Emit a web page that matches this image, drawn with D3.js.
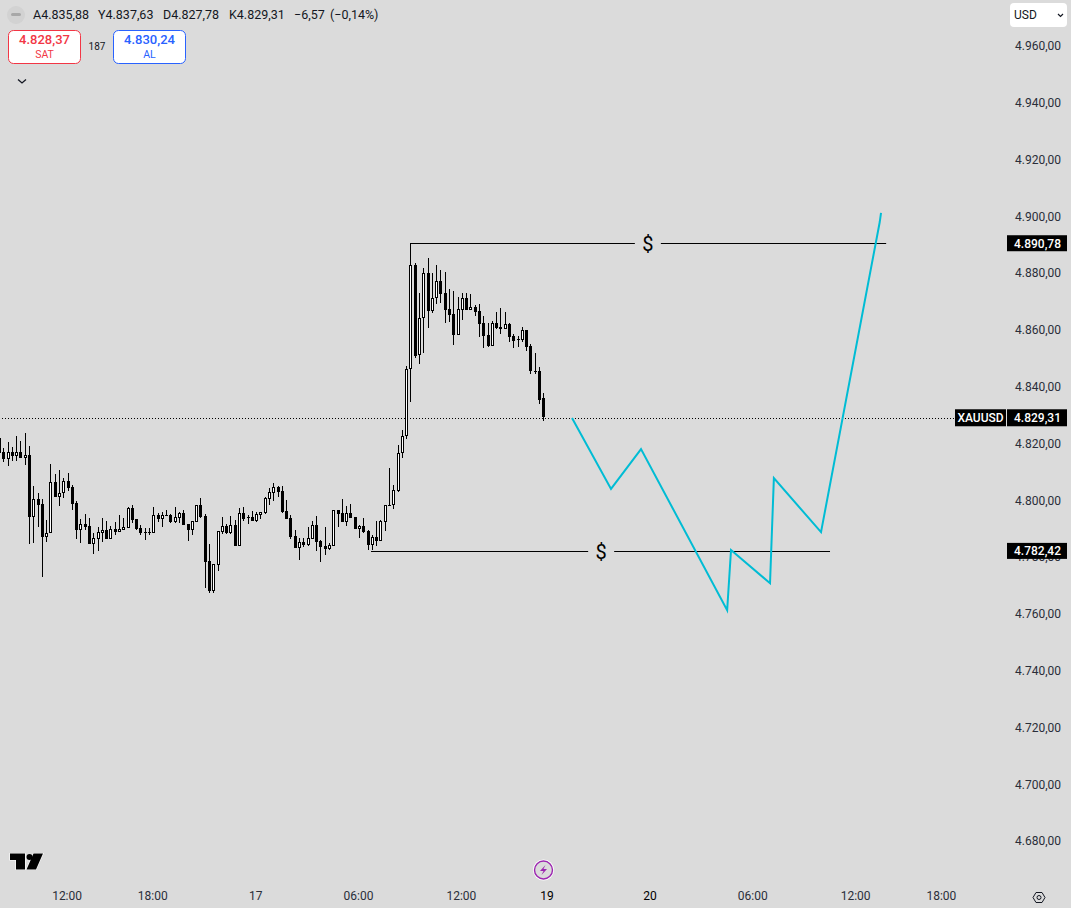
<!DOCTYPE html>
<html>
<head>
<meta charset="utf-8">
<script src="https://cdn.jsdelivr.net/npm/d3@7"></script>
<style>
html, body { margin: 0; padding: 0; background: #dbdbdb; overflow: hidden; }
svg { display: block; font-family: Roboto, "Liberation Sans", sans-serif; }
</style>
</head>
<body>
<svg id="chart" width="1071" height="908"></svg>
<script>
// 15 minute candles
var opens = [4821.8,4817.0,4814.7,4817.0,4815.6,4817.0,4815.0,4816.0,4794.2,4800.5,4798.7,4787.2,4788.4,4806.5,4801.3,4802.4,4806.8,4804.7,4799.1,4789.7,
  4791.7,4791.0,4784.7,4786.5,4788.6,4789.6,4786.5,4789.9,4789.0,4789.7,4790.4,4797.3,4793.4,4790.3,4788.9,4788.9,4788.6,4794.7,4793.5,4794.7,
  4794.7,4792.5,4793.9,4795.5,4791.7,4789.7,4792.5,4798.3,4794.5,4778.6,4768.2,4777.2,4788.8,4790.9,4788.5,4791.3,4783.9,4795.5,4794.1,4794.1,
  4792.7,4794.9,4795.5,4800.5,4802.7,4804.7,4803.3,4796.2,4793.8,4787.4,4783.2,4785.3,4784.3,4786.4,4791.3,4785.7,4783.9,4782.9,4783.9,4796.6,
  4795.5,4792.4,4795.5,4794.1,4789.9,4790.9,4789.2,4784.3,4787.1,4785.7,4792.4,4798.5,4798.5,4803.2,4816.5,4822.8,4846.1,4882.7,4851.0,4864.1,
  4879.9,4866.8,4871.1,4877.1,4872.9,4867.2,4865.5,4858.3,4867.1,4871.1,4867.1,4867.9,4866.5,4862.3,4858.1,4854.4,4862.3,4860.9,4860.3,4862.0,
  4857.7,4856.8,4856.4,4859.8,4854.2,4845.7,4845.5,4835.88];
var highs = [4821.8,4818.3,4820.4,4818.7,4822.7,4820.8,4823.6,4819.0,4805.0,4802.5,4800.5,4793.1,4812.8,4809.3,4810.7,4807.8,4809.5,4805.4,4799.8,4793.4,
  4795.2,4793.8,4788.4,4790.6,4793.8,4792.7,4790.8,4792.4,4794.8,4793.8,4797.5,4798.4,4793.4,4791.3,4790.3,4790.3,4797.5,4795.5,4795.8,4796.6,
  4795.1,4797.5,4795.9,4796.6,4791.7,4792.7,4798.4,4800.8,4795.2,4784.6,4777.6,4789.2,4794.1,4791.7,4794.5,4793.1,4797.3,4797.6,4794.8,4796.2,
  4795.9,4795.9,4801.2,4804.3,4806.1,4805.0,4805.0,4800.1,4794.8,4789.5,4786.7,4786.7,4790.6,4792.7,4794.5,4786.0,4790.6,4785.0,4796.6,4796.6,
  4800.5,4798.0,4798.7,4794.1,4791.3,4793.8,4789.5,4787.8,4792.7,4793.1,4798.3,4811.3,4805.3,4819.4,4824.7,4847.3,4890.78,4883.4,4872.9,4881.7,
  4885.2,4879.9,4882.8,4881.1,4880.3,4874.4,4873.7,4871.6,4872.9,4872.9,4872.5,4868.7,4869.3,4864.9,4862.6,4863.1,4866.2,4867.6,4866.2,4862.6,
  4858.5,4857.9,4860.9,4859.8,4855.0,4851.8,4846.8,4837.63];
var lows = [4816.6,4813.6,4811.9,4814.0,4814.0,4815.0,4812.6,4784.7,4785.1,4790.7,4773.1,4785.4,4788.4,4801.3,4798.1,4800.7,4803.4,4796.6,4786.5,4785.1,
  4789.6,4784.7,4781.2,4782.3,4785.4,4786.5,4786.5,4787.8,4788.9,4789.6,4790.4,4792.1,4789.6,4787.9,4786.0,4787.6,4788.6,4792.4,4790.6,4794.5,
  4792.1,4792.1,4792.1,4791.3,4785.8,4787.6,4792.5,4793.8,4769.1,4767.5,4767.5,4775.1,4788.1,4788.1,4788.1,4783.9,4783.9,4792.7,4791.7,4792.7,
  4792.4,4793.4,4795.2,4798.4,4799.8,4801.2,4795.5,4793.4,4786.4,4783.2,4779.0,4783.6,4783.9,4786.4,4782.1,4778.3,4780.7,4782.5,4783.9,4790.6,
  4792.4,4790.9,4793.8,4789.9,4786.7,4788.5,4782.5,4782.42,4783.9,4785.7,4789.2,4798.1,4797.1,4803.0,4815.0,4821.7,4834.7,4850.2,4848.1,4852.0,
  4860.8,4865.8,4869.1,4869.6,4862.5,4862.9,4854.7,4858.3,4863.6,4867.1,4867.1,4865.0,4857.6,4853.7,4854.1,4854.4,4860.5,4858.6,4860.3,4855.8,
  4853.7,4854.1,4855.6,4852.7,4844.6,4844.6,4834.0,4827.78];
var closes = [4816.6,4814.6,4817.0,4815.6,4817.0,4815.0,4816.0,4794.2,4800.5,4798.5,4787.2,4788.4,4806.5,4801.3,4802.5,4806.8,4804.4,4798.8,4789.6,4791.7,
  4790.7,4784.7,4786.7,4788.9,4789.6,4786.5,4789.9,4788.9,4789.9,4790.6,4797.2,4793.2,4790.0,4788.6,4788.6,4788.6,4794.7,4793.4,4794.7,4794.5,
  4792.5,4794.1,4795.5,4791.3,4789.6,4792.6,4798.2,4794.1,4778.4,4768.2,4777.6,4789.2,4790.9,4788.5,4791.3,4783.9,4795.5,4793.4,4793.9,4792.7,
  4795.2,4795.9,4800.8,4802.9,4804.7,4802.9,4795.9,4793.4,4787.1,4783.2,4785.3,4784.3,4786.7,4791.3,4785.3,4783.6,4782.9,4784.3,4796.6,4795.2,
  4792.4,4795.5,4793.8,4789.9,4790.9,4788.8,4784.3,4787.1,4785.7,4792.7,4798.3,4798.1,4803.5,4816.5,4822.8,4846.1,4882.7,4850.9,4864.1,4879.9,
  4866.8,4871.1,4877.1,4872.7,4867.1,4865.3,4858.3,4867.2,4871.1,4867.1,4867.9,4866.4,4862.2,4857.9,4854.4,4862.3,4860.8,4860.3,4862.0,4857.6,
  4856.2,4856.5,4859.8,4854.1,4845.6,4845.5,4835.4,4829.31];

// hand drawn projection (candle slot, price)
var pathSlots = [133.7,142.8,149.8,169.9,170.8,179.9,180.8,191.8,205.5,205.8];
var pathPrices = [4829.0,4804.0,4818.05,4761.3,4782.5,4770.8,4807.8,4788.8,4898.0,4901.2];

var priceTicks = d3.range(4680, 4961, 20);
var timeSlots = [16,36,60,84,108,128,152,176,200,220];
var timeLabels = ["12:00","18:00","17","06:00","12:00","19","20","06:00","12:00","18:00"];
var darkTimeLabels = ["19","20"];

var headerLabels = ["A4.835,88","Y4.837,63","D4.827,78","K4.829,31","\u22126,57","(\u22120,14%)"];
var headerX = [33,98,163,229,294,330];

var lastPrice = 4829.31;
var topLevel = 4890.78;
var bottomLevel = 4782.42;

var svg = d3.select("#chart");
var numFmt = d3.formatLocale({decimal: ",", thousands: ".", grouping: [3], currency: ["", ""]}).format(",.2f");

var x = d3.scaleLinear().domain([0, 127]).range([-1, 543.3]);
var y = d3.scaleLinear().domain([4680, 4960]).range([841, 46]);

svg.append("rect").attr("width", 1071).attr("height", 908).attr("fill", "#dbdbdb");

// axes
var yAxis = d3.axisRight(y).tickValues(priceTicks).tickFormat(numFmt).tickSize(0).tickPadding(0);
var yG = svg.append("g").attr("transform", "translate(1061,0)").call(yAxis);
yG.select(".domain").remove();
yG.selectAll("text").attr("text-anchor", "end").attr("font-size", 12).attr("fill", "#2a2e39")
  .attr("font-family", "Roboto, 'Liberation Sans', sans-serif");

var xAxis = d3.axisBottom(x).tickValues(timeSlots).tickFormat(function(d, i) { return timeLabels[i]; }).tickSize(0).tickPadding(0);
var xG = svg.append("g").attr("transform", "translate(-1,891)").call(xAxis);
xG.select(".domain").remove();
xG.selectAll("text").attr("font-size", 12)
  .attr("font-family", "Roboto, 'Liberation Sans', sans-serif")
  .attr("fill", function(d, i) { return darkTimeLabels.indexOf(timeLabels[i]) >= 0 ? "#000" : "#2a2e39"; });

// last price line
svg.append("line").attr("x1", 2).attr("x2", 955).attr("y1", 418.5).attr("y2", 418.5)
  .attr("stroke", "#000").attr("stroke-width", 1).attr("stroke-dasharray", "1 2");

// candles
var candles = d3.range(opens.length).map(function(i) {
  return {i: i, o: opens[i], h: highs[i], l: lows[i], c: closes[i]};
});
var gc = svg.append("g").attr("shape-rendering", "crispEdges");
var rows = gc.selectAll("g").data(candles).enter().append("g");
rows.append("rect")
  .attr("x", function(d) { return Math.round(x(d.i)); })
  .attr("width", 1)
  .attr("y", function(d) { return Math.round(y(d.h)); })
  .attr("height", function(d) { return Math.max(1, Math.round(y(d.l)) - Math.round(y(d.h))); })
  .attr("fill", "#000");
rows.append("rect")
  .attr("x", function(d) { return Math.round(x(d.i)) - 1; })
  .attr("width", 3)
  .attr("y", function(d) { return Math.round(y(Math.max(d.o, d.c))); })
  .attr("height", function(d) { return Math.max(1, Math.round(y(Math.min(d.o, d.c))) - Math.round(y(Math.max(d.o, d.c)))); })
  .attr("fill", "#000");
rows.filter(function(d) { return d.c > d.o; }).append("rect")
  .attr("x", function(d) { return Math.round(x(d.i)); })
  .attr("width", 1)
  .attr("y", function(d) { return Math.round(y(d.c)) + 1; })
  .attr("height", function(d) { return Math.max(1, Math.round(y(d.o)) - Math.round(y(d.c)) - 2); })
  .attr("fill", "#fff");

// $ levels
var drawLevel = function(level, fromSlot, toSlot, midSlot)
{
  var yy = Math.ceil(y(level)) + 0.5;
  var mid = x(midSlot);
  var g = svg.append("g");
  g.append("line").attr("x1", x(fromSlot)).attr("x2", mid - 13).attr("y1", yy).attr("y2", yy).attr("stroke", "#000");
  g.append("line").attr("x1", mid + 13).attr("x2", x(toSlot)).attr("y1", yy).attr("y2", yy).attr("stroke", "#000");
  g.append("text").attr("x", mid).attr("y", yy + 7).attr("text-anchor", "middle")
    .attr("font-size", 20).attr("fill", "#000").text("$");
}
drawLevel(topLevel, 96, 207, 151.4);
drawLevel(bottomLevel, 86.8, 193.9, 140.5);

// projection line
var line = d3.line().x(function(d) { return x(d); }).y(function(d, i) { return y(pathPrices[i]); });
svg.append("path").attr("d", line(pathSlots)).attr("fill", "none")
  .attr("stroke", "#00bcd4").attr("stroke-width", 2).attr("stroke-linejoin", "miter");

// price tags
var priceTag = function(value, h)
{
  var yy = y(value) + 0.7;
  svg.append("rect").attr("x", 1007).attr("y", yy - h / 2).attr("width", 60).attr("height", h).attr("fill", "#000");
  svg.append("text").attr("x", 1061).attr("y", yy + 4.3).attr("text-anchor", "end")
    .attr("font-size", 12).attr("font-weight", 500).attr("fill", "#fff").text(numFmt(value));
}
priceTag(lastPrice, 17);
priceTag(topLevel, 16);
priceTag(bottomLevel, 16);
svg.append("rect").attr("x", 955).attr("y", y(lastPrice) - 7.8).attr("width", 51).attr("height", 17).attr("fill", "#000");
svg.append("text").attr("x", 980.5).attr("y", y(lastPrice) + 5).attr("text-anchor", "middle")
  .attr("font-size", 12).attr("font-weight", 500).attr("fill", "#fff").text("XAUUSD");

// legend row
svg.append("circle").attr("cx", 16).attr("cy", 15).attr("r", 9).attr("fill", "#d2d2d2");
svg.append("rect").attr("x", 11).attr("y", 13).attr("width", 10).attr("height", 3).attr("rx", 1.5).attr("fill", "#a8a8a8");
svg.selectAll("text.head").data(headerLabels).enter().append("text").attr("class", "head")
  .attr("x", function(d, i) { return headerX[i]; }).attr("y", 19)
  .attr("font-size", 12.5).attr("fill", "#131722").text(function(d) { return d; });

var tradeButton = function(bx, color, price, label)
{
  svg.append("rect").attr("x", bx + 0.5).attr("y", 30.5).attr("width", 72).attr("height", 33).attr("rx", 5)
    .attr("fill", "#fff").attr("stroke", color);
  svg.append("text").attr("x", bx + 36.5).attr("y", 44).attr("text-anchor", "middle")
    .attr("font-size", 13).attr("font-weight", 500).attr("fill", color).text(price);
  svg.append("text").attr("x", bx + 36.5).attr("y", 58).attr("text-anchor", "middle")
    .attr("font-size", 10.5).attr("fill", color).text(label);
}
tradeButton(8, "#f23645", "4.828,37", "SAT");
tradeButton(113, "#2962ff", "4.830,24", "AL");
svg.append("text").attr("x", 97).attr("y", 50).attr("text-anchor", "middle").attr("font-size", 10).attr("fill", "#131722").text("187");

svg.append("path").attr("d", "M18 79.5 L22 83 L26 79.5").attr("fill", "none").attr("stroke", "#131722").attr("stroke-width", 1.3);

// currency box
svg.append("rect").attr("x", 1010).attr("y", 3).attr("width", 57).attr("height", 24).attr("rx", 4).attr("fill", "#fff");
svg.append("text").attr("x", 1014).attr("y", 19).attr("font-size", 12).attr("fill", "#131722").text("USD");
svg.append("path").attr("d", "M1058 14 L1060.5 16.5 L1063 14").attr("fill", "none").attr("stroke", "#131722").attr("stroke-width", 1.2);

// logo
svg.append("path").attr("d", "M10 853.5 H25 V869.5 H16 V860 H10 Z M33.5 853.5 H43 L36 869.5 H26.5 Z")
  .attr("fill", "#000").attr("stroke", "#fff").attr("stroke-width", 1.2).attr("paint-order", "stroke");
svg.append("circle").attr("cx", 29.5).attr("cy", 857).attr("r", 3).attr("fill", "#000");

// lightning badge
svg.append("circle").attr("cx", 543.5).attr("cy", 870).attr("r", 10.5).attr("fill", "#fff");
svg.append("circle").attr("cx", 543.5).attr("cy", 870).attr("r", 9).attr("fill", "#dbdbdb").attr("stroke", "#9c27b0").attr("stroke-width", 1.4);
svg.append("path").attr("d", "M545.5 865 L540 871 H543.5 L541.5 875 L547 869 H543.5 Z").attr("fill", "#9c27b0");

// settings hexagon
svg.append("path").attr("d", "M1033 897.5 L1036 892.5 H1042 L1045 897.5 L1042 902.5 H1036 Z").attr("fill", "none").attr("stroke", "#131722");
svg.append("circle").attr("cx", 1039).attr("cy", 897.5).attr("r", 2).attr("fill", "none").attr("stroke", "#131722");
</script>
</body>
</html>
